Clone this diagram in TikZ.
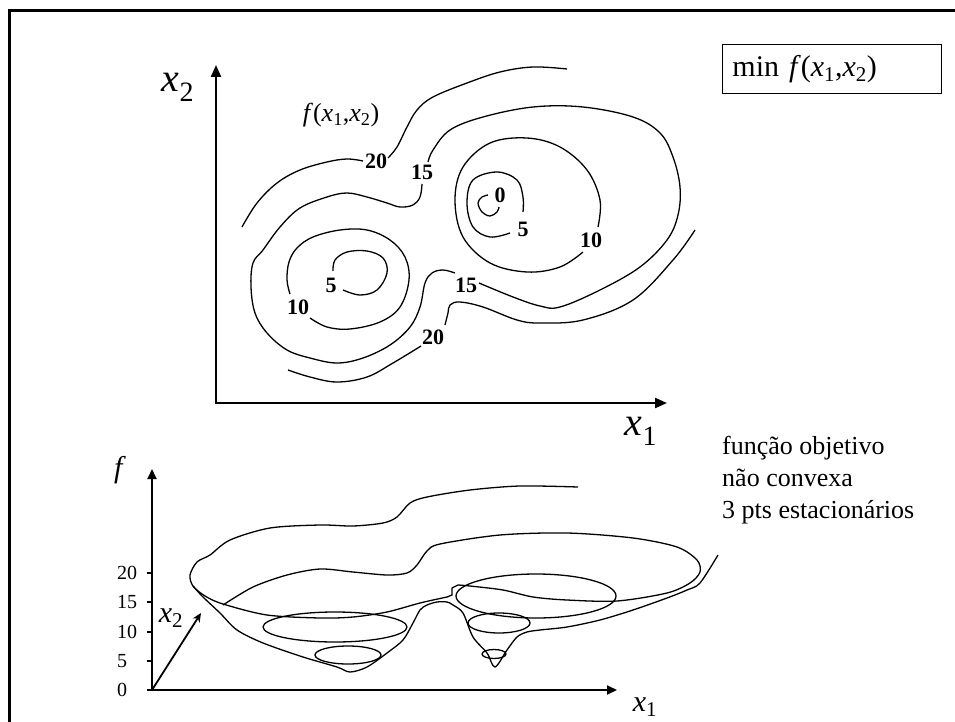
\documentclass[tikz,border=0pt]{standalone}
\usepackage{fontspec}
\setmainfont{Liberation Serif}
\usetikzlibrary{arrows.meta,positioning}
\newcommand{\xvar}[1]{\textit{x}\textsubscript{#1}}

\begin{document}
\begin{tikzpicture}[x=1pt,y=-1pt,
every node/.style={font=\fontsize{26}{32}\selectfont},
frame/.style={line width=3pt},
axis/.style={line width=2.2pt,{Triangle[length=12pt,width=10pt]}-{Triangle[length=12pt,width=10pt]}},
axs/.style={line width=2pt,-{Triangle[length=10pt,width=9pt]}},
lvl/.style={line width=1.3pt},
lab/.style={font=\bfseries\fontsize{22}{22}\selectfont,inner sep=0pt},
tick/.style={line width=1.5pt}]
\useasboundingbox (0,0) rectangle (955,722);
\draw[frame] (9,722) -- (9,11) -- (955,11);

% contour plot
\coordinate (O) at (216,403);
\coordinate (X1) at (667,403);
\coordinate (X2) at (216,65);
\draw[axis] (X2) -- (O) -- (X1);
\node[font=\fontsize{40}{40}\selectfont] (x2lab) at (178,87) {\xvar{2}};
\node[font=\fontsize{40}{40}\selectfont] (x1lab) at (641,431) {\xvar{1}};
\node (fname) at (341,115) {\textit{f}(\xvar{1},\xvar{2})};
\node[draw,line width=0.8pt,anchor=north west,inner xsep=10pt,text width=199pt,
  minimum height=49pt,align=left,font=\fontsize{30}{30}\selectfont] (prob) at (722,44)
  {min \textit{f}(\xvar{1},\xvar{2})};

% level 20
\draw[lvl] plot[smooth,tension=0.6] coordinates {(242,227) (257,203) (277,183) (300,170) (327,162) (347,159) (363,161)};
\draw[lvl] plot[smooth,tension=0.6] coordinates {(388,158) (397,147) (407,127) (417,110) (433,97) (467,83) (500,72) (533,67) (567,69)};
\draw[lvl] plot[smooth,tension=0.6] coordinates {(288,370) (310,377) (337,382) (367,377) (393,363) (421,346)};
\draw[lvl] plot[smooth,tension=0.6] coordinates {(445,325) (448,313) (450,305) (460,302) (483,307) (517,320) (540,323) (583,320) (633,300) (673,260) (695,230)};
\node[lab] (l20a) at (376,161) {20};
\node[lab] (l20b) at (433,337) {20};
% level 15
\draw[lvl] plot[smooth,tension=0.6] coordinates {(422,184) (420,197) (413,205) (400,207) (387,203) (367,197) (347,193) (327,197) (300,208) (280,227) (263,250) (253,263) (251,287) (255,313) (267,333) (287,350) (310,358) (337,363) (363,358) (390,345) (410,327) (420,307) (425,283) (432,273) (443,270) (455,273)};
\draw[lvl] plot[smooth,tension=0.6] coordinates {(479,283) (513,297) (540,306) (560,307) (600,290) (640,267) (667,240) (678,215) (680,187) (673,157) (660,133) (633,117) (583,107) (533,107) (483,117) (450,130) (433,150) (428,162)};
\node[lab] (l15a) at (422,172) {15};
\node[lab] (l15b) at (466,285) {15};
% level 10
\draw[lvl] plot[smooth,tension=0.6] coordinates {(310,318) (327,327) (350,329) (380,322) (400,307) (409,280) (405,257) (390,240) (367,230) (340,230) (313,237) (297,248) (289,262) (287,280) (290,294)};
\draw[lvl] plot[smooth,tension=0.6] coordinates {(583,252) (560,267) (527,272) (490,263) (463,237) (455,200) (463,167) (490,143) (527,138) (560,147) (587,170) (600,200) (598,227)};
\node[lab] (l10a) at (298,307) {10};
\node[lab] (l10b) at (591,240) {10};
% level 5
\draw[lvl] plot[smooth,tension=0.6] coordinates {(343,290) (360,295) (377,290) (387,273) (383,258) (367,251) (347,252) (335,260) (333,271)};
\draw[lvl] plot[smooth,tension=0.6] coordinates {(510,233) (490,237) (473,227) (467,203) (473,180) (497,172) (517,180) (523,197) (523,212)};
\node[lab] (l5a) at (331,285) {5};
\node[lab] (l5b) at (523,229) {5};
% level 0
\draw[lvl] plot[smooth,tension=0.6] coordinates {(488,195) (482,197) (478,203) (482,212) (490,216) (497,212) (499,207)};
\node[lab] (l0) at (500,195) {0};

% surface plot
\coordinate (P) at (152,690);
\coordinate (F) at (152,469);
\coordinate (Y1) at (617,690);
\coordinate (Y2) at (201,613);
\draw[axs] (P) -- (F);
\draw[axs] (P) -- (Y1);
\draw[line width=1.8pt,-{Stealth[length=9pt,width=8pt]}] (P) -- (Y2);
\foreach \v/\y in {0/690,5/661,10/632,15/602,20/573}{
  \draw[tick] (147,\y) -- (152,\y);
  \node[anchor=west,inner sep=0pt,font=\fontsize{20}{20}\selectfont] at (117,\y) {\v};
}
\node[font=\fontsize{30}{30}\selectfont] (flab) at (120,470) {\textit{f}};
\node[font=\fontsize{30}{30}\selectfont] (x2b) at (171,618) {\xvar{2}};
\node[font=\fontsize{30}{30}\selectfont] (x1b) at (645,707) {\xvar{1}};

\draw[lvl] plot[smooth,tension=0.5] coordinates {(578,487) (520,486) (470,490) (427,497) (410,503) (397,517) (383,523) (353,526) (320,525) (270,528) (230,540) (210,555) (197,562) (190,575) (193,586) (205,596) (223,604) (267,615) (320,618) (353,617) (387,612) (420,603) (447,597)};
\draw[lvl] (447,597) -- (452,595) -- (452,588) -- (458,585);
\draw[lvl] plot[smooth,tension=0.5] coordinates {(458,585) (470,586) (503,590) (533,597) (567,600) (617,601) (667,593) (690,583) (700,572) (697,560) (677,547) (633,538) (567,533) (500,535) (440,544) (427,551) (417,565) (407,573) (387,575) (353,572) (320,569) (287,575) (253,587) (223,605)};
\draw[lvl] plot[smooth,tension=0.5] coordinates {(193,586) (203,597) (220,613) (237,630) (263,643) (303,657) (337,667) (350,672) (367,667) (387,653) (403,640) (413,623) (420,610) (427,605) (437,602) (447,602) (453,605) (463,613) (473,637) (487,653) (495,667) (507,650) (517,637) (527,632) (540,630) (567,627) (600,620) (633,610) (667,598) (687,590) (700,583) (718,555)};
\draw[lvl] (335,627) ellipse [x radius=72,y radius=15];
\draw[lvl] (348,655) ellipse [x radius=33,y radius=9];
\draw[lvl] (536,596) ellipse [x radius=80,y radius=22];
\draw[lvl] (499,623) ellipse [x radius=31,y radius=10];
\draw[lvl] (494,654) ellipse [x radius=12,y radius=4.5];

\node[anchor=north west,align=left,inner sep=0pt] (note) at (722,436)
  {função objetivo\\não convexa\\3 pts estacionários};
\end{tikzpicture}
\end{document}
